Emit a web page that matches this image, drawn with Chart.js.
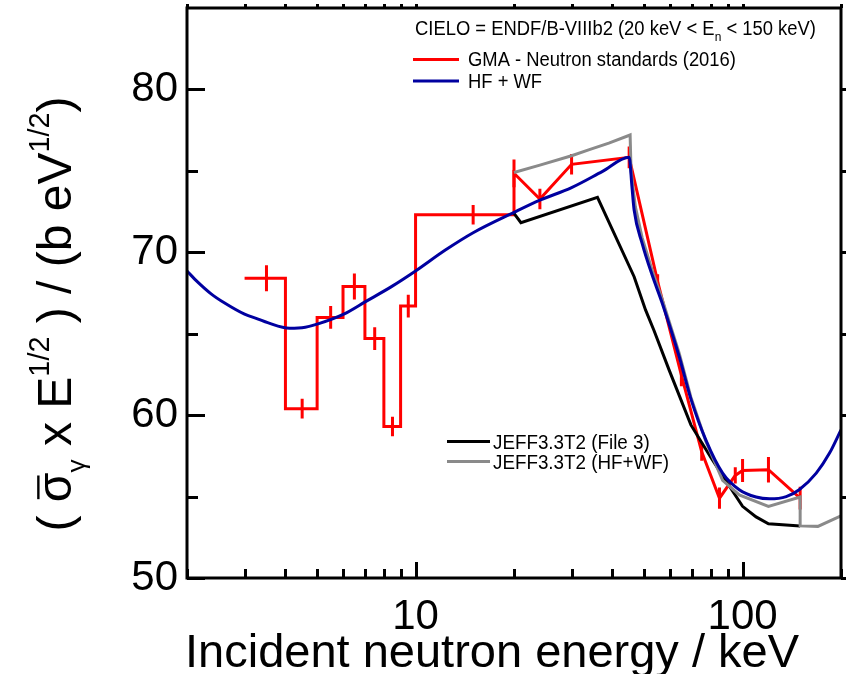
<!DOCTYPE html>
<html><head><meta charset="utf-8">
<script src="https://cdn.jsdelivr.net/npm/chart.js@4/dist/chart.umd.min.js"></script>
<style>html,body{margin:0;padding:0;background:#fff}#wrap{width:846px;height:674px}</style>
</head><body><div id="wrap"><canvas id="c" width="846" height="674"></canvas></div>
<script>
// ---------- data ----------
const gmaStepEdges  = [3, 4, 5, 6, 7, 8, 9, 10, 20];
const gmaStepValues = [68.4, 60.4, 66.0, 67.9, 64.7, 59.3, 66.7, 72.3];
const gmaStepErrE   = [3.5, 4.5, 5.5, 6.5, 7.5, 8.5, 9.5, 15];
const gmaStepErr    = [0.8, 0.6, 0.7, 0.8, 0.7, 0.6, 0.7, 0.6];
const gmaPointE     = [20, 24, 30, 45, 55, 65, 75, 85, 95, 100, 120, 150];
const gmaPointValues= [74.85, 73.27, 75.4, 75.83, 68.2, 62.45, 57.75, 54.9, 56.3, 56.6, 56.65, 54.9];
const gmaPointErr   = [0.85, 0.63, 0.63, 0.67, 0.45, 0.67, 0.55, 0.65, 0.5, 0.7, 0.78, 0.7];

const hfwfE      = [2, 2.15, 2.37, 2.6, 3, 3.3, 3.53, 4.12, 4.6, 5.03, 6.03, 7.03, 8.44, 10, 12.3, 15, 20, 24, 30, 37.2, 45, 45.9, 46.6, 49.3, 52.9, 56.8, 64, 69.5, 77.2, 86.9, 97.7, 110, 121, 136, 149, 168, 184.5, 200];
const hfwfValues = [68.85, 68.2, 67.45, 66.9, 66.2, 65.9, 65.68, 65.34, 65.4, 65.6, 66.2, 66.97, 67.89, 68.85, 70.12, 71.2, 72.45, 73.2, 73.97, 74.95, 75.83, 74.0, 72.6, 70.55, 68.6, 66.87, 63.6, 61.0, 58.48, 56.44, 55.42, 54.97, 54.86, 55.0, 55.42, 56.44, 57.67, 59.1];

const jeffF3E      = [20, 21, 36, 46.6, 50.5, 53.6, 59.6, 69.5, 80, 90, 100, 110, 120, 150];
const jeffF3Values = [72.39, 71.82, 73.37, 68.5, 66.46, 65.2, 62.78, 59.4, 57.4, 55.8, 54.4, 53.75, 53.33, 53.2];

const jeffHfE      = [20, 24, 30, 34, 39, 45.3, 45.6, 47, 49.3, 52.9, 56.8, 64, 69.5, 77.2, 86.9, 97.7, 120, 150, 150, 170, 200];
const jeffHfValues = [74.9, 75.35, 75.93, 76.3, 76.7, 77.2, 75.0, 72.8, 70.9, 68.9, 67.1, 63.8, 61.1, 58.4, 56.0, 55.1, 54.4, 54.97, 53.2, 53.17, 53.82];

const xMajorTicks = [10, 100];
const xMinorTicks = [2, 3, 4, 5, 6, 7, 8, 9, 20, 30, 40, 50, 60, 70, 80, 90, 200];
const yMajorTicks = [50, 60, 70, 80];
const yMinorTicks = [55, 65, 75];

// ---------- build series ----------
const gmaLine = [];
gmaStepValues.forEach((v, i) => {
  gmaLine.push({x: gmaStepEdges[i], y: v});
  gmaLine.push({x: gmaStepEdges[i + 1], y: v});
});
gmaPointE.forEach((e, i) => gmaLine.push({x: e, y: gmaPointValues[i]}));

const gmaErr = [];
gmaStepErrE.forEach((e, i) => {
  gmaErr.push({x: e, y: gmaStepValues[i] - gmaStepErr[i]}, {x: e, y: gmaStepValues[i] + gmaStepErr[i]}, {x: e, y: null});
});
gmaPointE.forEach((e, i) => {
  gmaErr.push({x: e, y: gmaPointValues[i] - gmaPointErr[i]}, {x: e, y: gmaPointValues[i] + gmaPointErr[i]}, {x: e, y: null});
});
const zip = (xs, ys) => xs.map((x, i) => ({x, y: ys[i]}));

const FONT = "'Liberation Sans', Arial, Helvetica, sans-serif";
const RED = '#ff0000', BLUE = '#0000a0', GRAY = '#8a8a8a', BLACK = '#000000';

// ---------- custom drawing: frame, ticks, titles, legends ----------
function drawPieces(ctx, pieces, x, y, size) {
  let cx = x;
  pieces.forEach(p => {
    const s = size * (p.scale || 1);
    ctx.font = s + 'px ' + FONT;
    ctx.fillText(p.t, cx, y + (p.dy || 0) * size);
    const w = ctx.measureText(p.t).width;
    if (p.bar) {
      ctx.save();
      ctx.lineWidth = Math.max(1.5, size * 0.05);
      ctx.beginPath();
      ctx.moveTo(cx + w * 0.1, y - size * 0.68);
      ctx.lineTo(cx + w * 0.9, y - size * 0.68);
      ctx.stroke();
      ctx.restore();
    }
    cx += w;
  });
  return cx - x;
}
function piecesWidth(ctx, pieces, size) {
  let w = 0;
  pieces.forEach(p => { ctx.font = size * (p.scale || 1) + 'px ' + FONT; w += ctx.measureText(p.t).width; });
  return w;
}

const decorPlugin = {
  id: 'decor',
  afterDraw(chart) {
    const {ctx, chartArea: a, scales: {x, y}} = chart;
    ctx.save();
    ctx.strokeStyle = '#000';
    ctx.lineWidth = 3;
    ctx.lineCap = 'butt';
    ctx.beginPath();
    const yt = (v, len) => {
      const py = Math.round(y.getPixelForValue(v)) + 0.5;
      ctx.moveTo(a.left, py); ctx.lineTo(a.left + len, py);
      ctx.moveTo(a.right, py); ctx.lineTo(a.right + len, py);
    };
    yMajorTicks.forEach(v => yt(v, 18));
    yMinorTicks.forEach(v => yt(v, 11));
    const xt = (v, len) => {
      const px = Math.round(x.getPixelForValue(v)) + 0.5;
      ctx.moveTo(px, a.bottom); ctx.lineTo(px, a.bottom - len);
      ctx.moveTo(px, a.top); ctx.lineTo(px, a.top - 4);
    };
    xMajorTicks.forEach(v => xt(v, 16));
    xMinorTicks.forEach(v => xt(v, 9));
    ctx.stroke();
    ctx.strokeRect(a.left, a.top, a.right - a.left, a.bottom - a.top);

    ctx.fillStyle = '#000';
    ctx.strokeStyle = '#000';
    ctx.textBaseline = 'alphabetic';
    // x title
    const xTitle = 'Incident neutron energy / keV';
    ctx.font = '47px ' + FONT;
    const xw = ctx.measureText(xTitle).width;
    ctx.fillText(xTitle, 492 - xw / 2, 667);

    // y title (rotated)
    ctx.save();
    const yPieces = [
      {t: '( '}, {t: 'σ', bar: true}, {t: 'γ', scale: 0.55, dy: 0.3}, {t: ' x E'},
      {t: '1/2', scale: 0.6, dy: -0.45}, {t: ' ) / (b eV'}, {t: '1/2', scale: 0.6, dy: -0.45}, {t: ')'}
    ];
    const ySize = 48;
    const yw = piecesWidth(ctx, yPieces, ySize);
    ctx.translate(71, 314);
    ctx.rotate(-Math.PI / 2);
    drawPieces(ctx, yPieces, -yw / 2, 0, ySize);
    ctx.restore();

    // legends
    const legendText = (pieces, px, py, size, sx) => {
      ctx.save(); ctx.translate(px, py); ctx.scale(sx, 1);
      drawPieces(ctx, pieces, 0, 0, size);
      ctx.restore();
    };
    const legendLine = (col, x0, x1, py) => {
      ctx.save(); ctx.strokeStyle = col; ctx.lineWidth = 3;
      ctx.beginPath(); ctx.moveTo(x0, py); ctx.lineTo(x1, py); ctx.stroke(); ctx.restore();
    };
    legendText([{t: 'CIELO = ENDF/B-VIIIb2 (20 keV < E'}, {t: 'n', scale: 0.65, dy: 0.3}, {t: ' < 150 keV)'}], 415, 35, 20, 0.92);
    legendLine(RED, 413, 459, 59.5);
    legendText([{t: 'GMA - Neutron standards (2016)'}], 468, 66, 20, 0.92);
    legendLine(BLUE, 413, 459, 81);
    legendText([{t: 'HF + WF'}], 468, 88, 20, 0.92);
    legendLine(BLACK, 447, 490, 441.5);
    legendText([{t: 'JEFF3.3T2 (File 3)'}], 493, 448.5, 20, 0.94);
    legendLine(GRAY, 447, 490, 461.5);
    legendText([{t: 'JEFF3.3T2 (HF+WF)'}], 493, 468.5, 20, 0.94);
    ctx.restore();
  }
};

const lineDs = (label, data, color, order, extra) => Object.assign({
  label, data, borderColor: color, backgroundColor: color, borderWidth: 3,
  pointRadius: 0, pointHoverRadius: 0, tension: 0, fill: false, order,
  spanGaps: false
}, extra || {});

new Chart(document.getElementById('c'), {
  type: 'line',
  data: {
    datasets: [
      lineDs('HF + WF', zip(hfwfE, hfwfValues), BLUE, 1, {cubicInterpolationMode: 'monotone'}),
      lineDs('JEFF3.3T2 (HF+WF)', zip(jeffHfE, jeffHfValues), GRAY, 2),
      lineDs('JEFF3.3T2 (File 3)', zip(jeffF3E, jeffF3Values), BLACK, 3),
      lineDs('GMA - Neutron standards (2016) uncertainty', gmaErr, RED, 4),
      lineDs('GMA - Neutron standards (2016)', gmaLine, RED, 5)
    ]
  },
  options: {
    responsive: false,
    animation: false,
    devicePixelRatio: 1,
    layout: {padding: {top: 8, right: 5, left: 0, bottom: 0}},
    plugins: {legend: {display: false}, tooltip: {enabled: false}, title: {display: false}},
    scales: {
      x: {
        type: 'logarithmic', min: 2, max: 200,
        afterBuildTicks: s => { s.ticks = xMajorTicks.map(v => ({value: v})); },
        afterFit: s => { s.height = 96; s.paddingLeft = 0; s.paddingRight = 0; s.paddingTop = 0; s.paddingBottom = 0; },
        grid: {display: false, drawTicks: false},
        border: {display: false},
        ticks: {autoSkip: false, maxRotation: 0, padding: 14, color: '#000',
          font: {family: FONT, size: 42}, callback: v => String(v)}
      },
      y: {
        type: 'linear', min: 50, max: 85,
        afterBuildTicks: s => { s.ticks = yMajorTicks.map(v => ({value: v})); },
        afterFit: s => { s.width = 187; s.paddingTop = 0; s.paddingBottom = 0; s.paddingLeft = 0; s.paddingRight = 0; },
        grid: {display: false, drawTicks: false},
        border: {display: false},
        ticks: {padding: 9, color: '#000', font: {family: FONT, size: 42}, callback: v => String(v)}
      }
    }
  },
  plugins: [decorPlugin]
});
</script></body></html>
